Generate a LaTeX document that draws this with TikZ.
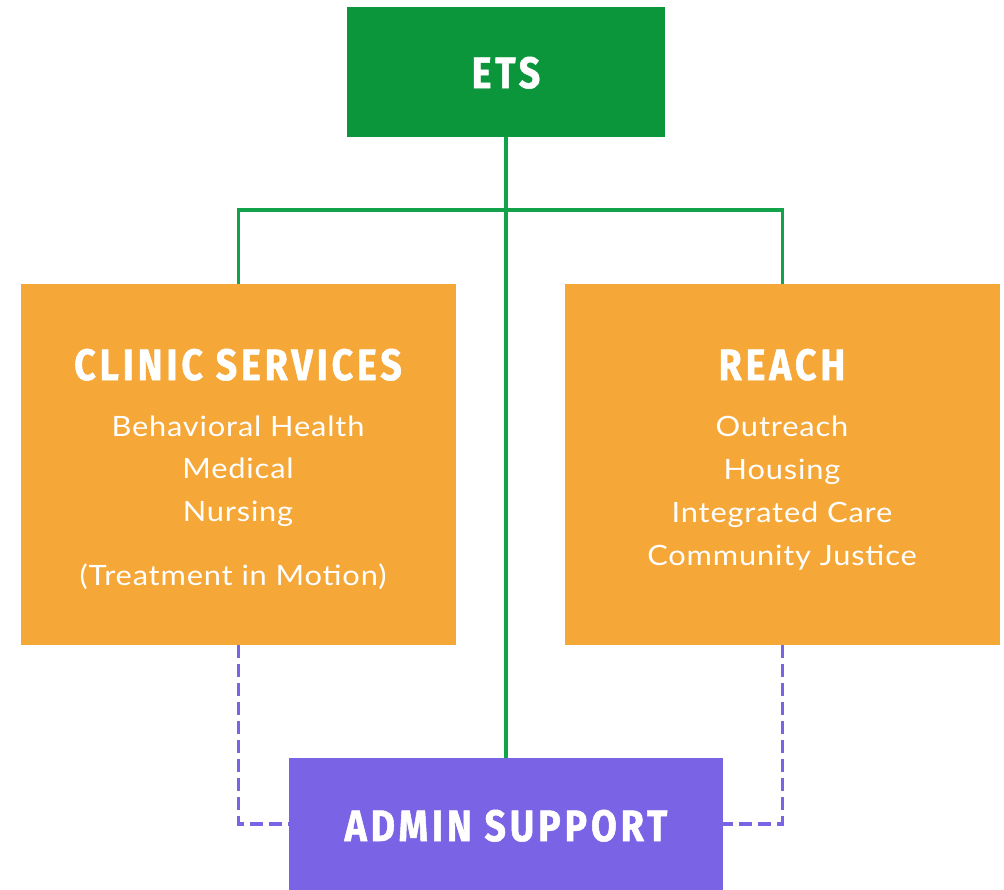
\documentclass[tikz,border=0pt]{standalone}
\usepackage{fontspec}
\setmainfont{Lato}[FakeStretch=1.1, LetterSpace=3]
\newfontfamily\titlefont{Fira Sans}[FakeStretch=0.85, LetterSpace=9, FakeBold=1.2]
\usetikzlibrary{positioning}

\definecolor{etsgreen}{HTML}{0C963C}
\definecolor{linkgreen}{HTML}{12A34A}
\definecolor{unitorange}{HTML}{F5A737}
\definecolor{adminpurple}{HTML}{7B63E5}

\tikzstyle{unit-box}=[rectangle, draw=none, inner sep=0pt]
\tikzstyle{unit-title}=[text=white, anchor=base, font={\titlefont\bfseries\fontsize{44}{44}\selectfont}]
\tikzstyle{unit-item}=[text=white, anchor=base, font={\fontsize{28}{28}\selectfont}]
\tikzstyle{solid-link}=[draw=linkgreen, line width=3.5pt]
\tikzstyle{dashed-link}=[draw=adminpurple, line width=3.5pt, dash pattern=on 13pt off 6pt]

\begin{document}
\begin{tikzpicture}[x=1pt, y=-1pt]
       \useasboundingbox (0,0) rectangle (1004,889);

       % boxes
       \node (ets) at (506, 72)
             [unit-box, fill={etsgreen}, minimum width=318pt, minimum height=130pt] {};
       \node (clinic) at (238.5, 464.5)
             [unit-box, fill={unitorange}, minimum width=435pt, minimum height=361pt] {};
       \node (reach) at (782.5, 464.5)
             [unit-box, fill={unitorange}, minimum width=435pt, minimum height=361pt] {};
       \node (admin) at (506, 824)
             [unit-box, fill={adminpurple}, minimum width=434pt, minimum height=132pt] {};

       % links
       \coordinate (bar) at (506, 210);
       \draw[solid-link] (ets.south) -- (admin.north);
       \draw[solid-link] (clinic.north) |- (bar) -| (reach.north);
       \draw[dashed-link] (clinic.south) |- (admin.west);
       \draw[dashed-link] (reach.south) |- (admin.east);

       % titles
       \node (ets-title) at (506, 88) [unit-title] {ETS};
       \node (clinic-title) at (238, 380) [unit-title] {CLINIC SERVICES};
       \node (reach-title) at (782, 380) [unit-title] {REACH};
       \node (admin-title) at (506, 841) [unit-title] {ADMIN SUPPORT};

       % clinic services
       \node (clinic1) at (238, 436) [unit-item] {Behavioral Health};
       \node (clinic2) at (238, 478) [unit-item] {Medical};
       \node (clinic3) at (238, 521) [unit-item] {Nursing};
       \node (clinic4) at (233, 585) [unit-item] {(Treatment in Motion)};

       % reach
       \node (reach1) at (782, 436) [unit-item] {Outreach};
       \node (reach2) at (782, 479) [unit-item] {Housing};
       \node (reach3) at (782, 522) [unit-item] {Integrated Care};
       \node (reach4) at (782, 565) [unit-item] {Community Justice};
\end{tikzpicture}
\end{document}
